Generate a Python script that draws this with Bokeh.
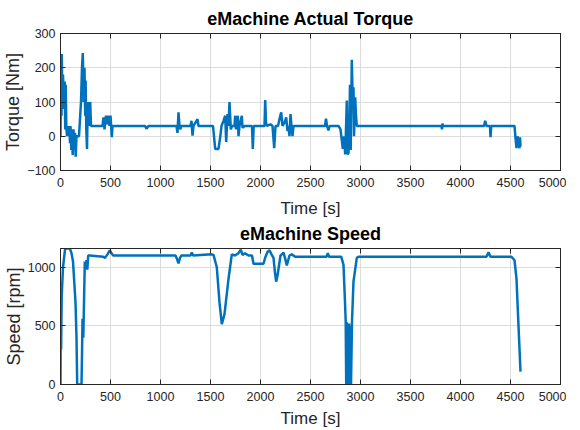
from bokeh.plotting import figure
from bokeh.layouts import column
from bokeh.models import LinearAxis, FixedTicker, Range1d, CustomLabelingPolicy
from bokeh.embed import file_html
from bokeh.resources import INLINE

# ---- data: (time [s], value) ----
torque_points = [
    (0, 0), (5, 170), (10, 60), (13, 240), (18, 100), (25, 180), (35, 80), (42, 160), (47, 20), (52, 150),
    (58, 30), (65, 0), (72, 30), (80, 0), (88, 30), (95, -20), (100, 30), (108, -40), (115, 20), (122, -55),
    (130, 20), (138, -40), (145, 10), (152, -60), (160, 0), (175, 0), (185, 0), (195, 50), (205, 100), (215, 200),
    (223, 243), (232, 100), (240, 200), (247, 60), (251, 163), (258, 20), (265, -37), (273, 100), (282, 30), (290, 60),
    (297, 100), (305, 30), (420, 30), (430, 55), (440, 20), (455, 60), (465, 35), (480, 60), (490, 30), (500, 60),
    (513, -3), (520, 30), (845, 30), (860, 22), (880, 30),
    (1160, 30), (1170, 10), (1180, 70), (1190, 30), (1200, 20), (1205, 30), (1300, 30), (1310, 45), (1320, 2),
    (1330, 30), (1370, 50), (1380, 30),
    (1525, 30), (1547, -37), (1580, -37), (1597, -3), (1610, 30), (1630, 45), (1647, 60), (1657, -17), (1670, 65),
    (1680, 30), (1690, 100), (1703, 20), (1715, 30), (1740, 30), (1747, 60), (1755, 20), (1773, 60), (1780, 0),
    (1790, 30), (1813, 60), (1820, 25), (1840, 30), (1915, 30), (1923, -37), (1932, 30), (2040, 30), (2047, 106),
    (2055, 40), (2063, 30), (2100, 35), (2120, 30), (2137, -35), (2150, 30), (2175, 30), (2190, 50), (2207, 70),
    (2220, 30), (2240, 40), (2257, 55), (2270, 15), (2280, 30), (2290, 0), (2300, 65), (2310, 30), (2320, 0),
    (2330, 30),
    (2645, 30), (2655, 51), (2665, 30), (2680, 17), (2690, 30), (2780, 30), (2800, 20), (2823, -37), (2835, 0),
    (2847, -53), (2855, 20), (2863, 104), (2872, -53), (2880, -49), (2888, 20), (2895, 150), (2902, -40),
    (2908, 100), (2913, 223), (2920, 130), (2930, 143), (2935, 0), (2947, 114), (2955, 60), (2963, 30),
    (3810, 30), (3815, 20), (3820, 37), (3825, 30), (4235, 30), (4247, 45), (4260, 30), (4295, 30), (4300, -3),
    (4307, 30), (4540, 30), (4550, -5), (4560, -35), (4570, 0), (4580, -20), (4590, -35), (4595, -3), (4600, -30),
]

speed_points = [
    (0, 0), (3, 560), (6, 300), (12, 750), (25, 1000), (45, 1150), (60, 1161), (93, 1161), (110, 1120),
    (125, 1050), (150, 700), (160, 400), (167, 0), (210, 0), (215, 250), (220, 560), (228, 400), (235, 700),
    (243, 1048), (250, 1000), (260, 1060), (268, 980), (277, 1100), (293, 1100),
    (427, 1090), (445, 1080), (470, 1110), (493, 1145), (510, 1120), (527, 1100), (1150, 1100), (1165, 1070),
    (1180, 1033), (1195, 1080), (1210, 1100), (1300, 1100), (1313, 1125), (1326, 1100), (1513, 1110),
    (1530, 1105), (1563, 1000), (1590, 700), (1613, 514), (1640, 600), (1680, 900), (1713, 1110), (1745, 1100),
    (1780, 1120), (1803, 1150), (1820, 1105), (1845, 1120), (1880, 1100), (1915, 1100), (1930, 1030),
    (2030, 1030), (2050, 1090), (2070, 1130), (2090, 1145), (2110, 1110), (2130, 1080), (2145, 950),
    (2157, 877), (2170, 930), (2200, 1100), (2230, 1125), (2245, 1080), (2263, 1015), (2290, 1100),
    (2313, 1110), (2347, 1090),
    (2660, 1090), (2673, 1120), (2686, 1090), (2807, 1090), (2830, 1020), (2845, 700), (2852, 540), (2857, 0),
    (2863, 530), (2868, 0), (2874, 520), (2880, 0), (2886, 520), (2892, 0), (2898, 500), (2905, 0),
    (2915, 537), (2930, 880), (2963, 1080), (2980, 1090),
    (4260, 1090), (4280, 1127), (4300, 1090), (4510, 1090), (4540, 1060), (4560, 900), (4580, 500), (4600, 110),
]

torque_time = [t for t, _ in torque_points]
torque = [v for _, v in torque_points]
speed_time = [t for t, _ in speed_points]
speed = [v for _, v in speed_points]

x_ticks = [0, 500, 1000, 1500, 2000, 2500, 3000, 3500, 4000, 4500, 5000]
torque_ticks = [-100, 0, 100, 200, 300]
speed_ticks = [0, 500, 1000]

LINE = "#0072BD"
AX = "#262626"
FONT = "Liberation Sans"


def box_axis(ticks):
    return LinearAxis(ticker=FixedTicker(ticks=ticks), major_label_text_font_size="1px",
                      major_label_policy=CustomLabelingPolicy(code="return []"),
                      axis_line_color=AX, major_tick_line_color=AX, major_tick_in=5, major_tick_out=0,
                      minor_tick_line_color=None, major_label_standoff=0)


def style(p, yticks, xlabel_standoff):
    p.title.text_font = FONT
    p.title.text_font_size = "18px"
    p.title.text_font_style = "bold"
    p.title.text_color = "#000000"
    p.title.align = "center"
    p.title.standoff = 2
    p.outline_line_color = AX
    p.outline_line_width = 1
    p.grid.grid_line_color = "#dcdcdc"
    p.xgrid.ticker = FixedTicker(ticks=x_ticks)
    p.ygrid.ticker = FixedTicker(ticks=yticks)
    for ax in p.xaxis + p.yaxis:
        ax.major_label_text_font = FONT
        ax.major_label_text_font_size = "12.5px"
        ax.major_label_text_color = AX
        ax.axis_label_text_font = FONT
        ax.axis_label_text_font_style = "normal"
        ax.axis_label_text_color = AX
        ax.axis_line_color = AX
        ax.major_tick_line_color = AX
        ax.major_tick_in = 5
        ax.major_tick_out = 0
        ax.minor_tick_line_color = None
    p.xaxis.ticker = FixedTicker(ticks=x_ticks)
    p.yaxis.ticker = FixedTicker(ticks=yticks)
    p.xaxis.axis_label_text_font_size = "17px"
    p.yaxis.axis_label_text_font_size = "18px"
    p.yaxis.axis_label_standoff = 1
    p.yaxis.major_label_standoff = 5
    p.xaxis.major_label_standoff = 7
    p.xaxis.axis_label_standoff = xlabel_standoff
    p.add_layout(box_axis(yticks), "right")
    p.add_layout(box_axis(x_ticks), "above")


p1 = figure(title="eMachine Actual Torque", frame_width=500, frame_height=137,
            x_range=Range1d(0, 5000), y_range=Range1d(-100, 300),
            output_backend="svg", toolbar_location=None,
            min_border_left=56, min_border_right=6, min_border_top=33, min_border_bottom=50,
            x_axis_label="Time [s]", y_axis_label="Torque [Nm]")
p1.line(torque_time, torque, line_color=LINE, line_width=2.5)
style(p1, torque_ticks, 9)

p2 = figure(title="eMachine Speed", frame_width=500, frame_height=136,
            x_range=Range1d(0, 5000), y_range=Range1d(0, 1160),
            output_backend="svg", toolbar_location=None,
            min_border_left=56, min_border_right=6, min_border_top=27, min_border_bottom=38,
            x_axis_label="Time [s]", y_axis_label="Speed [rpm]")
p2.line(speed_time, speed, line_color=LINE, line_width=2.5)
style(p2, speed_ticks, 5)

layout = column(p1, p2, spacing=0)
open("out.html", "w").write(file_html(layout, INLINE))
